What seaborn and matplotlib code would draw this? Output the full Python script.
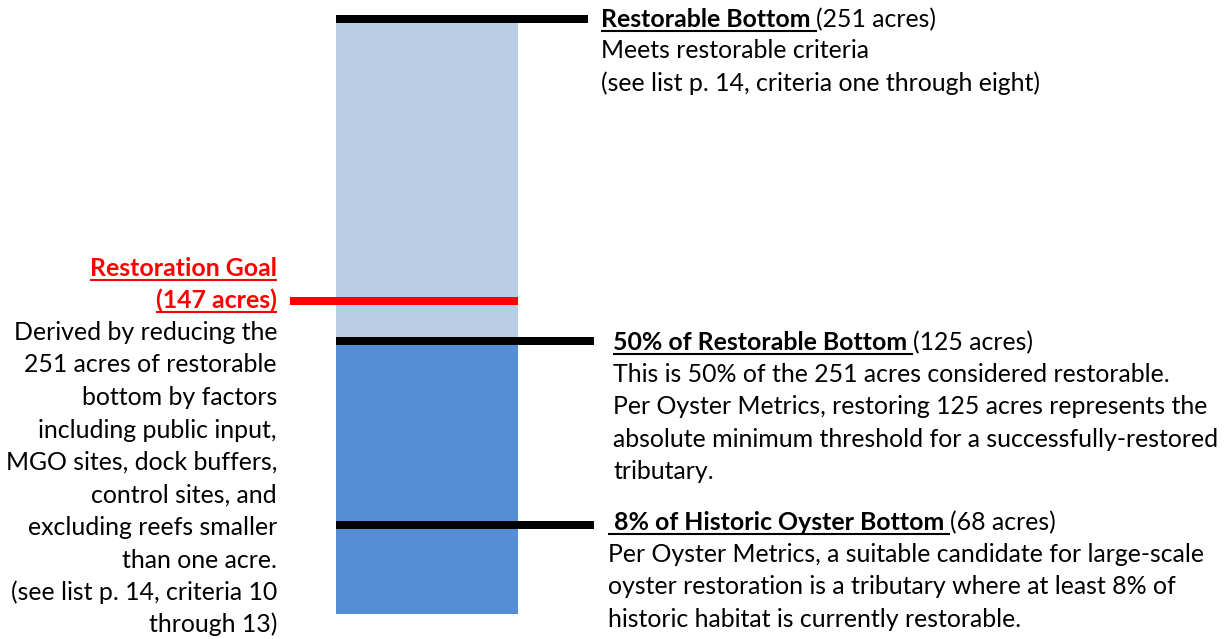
import numpy as np
import pandas as pd
import matplotlib
matplotlib.use("Agg")
import matplotlib.pyplot as plt
import seaborn as sns
from matplotlib.lines import Line2D

# ---------------- data ----------------
bar_segments = ["Restorable bottom", "50% of restorable bottom"]
bar_acres = [251, 125]
bar_colors = ["#B9CDE5", "#558ED5"]

level_names = ["Restorable Bottom", "Restoration Goal",
               "50% of Restorable Bottom", "8% of Historic Oyster Bottom"]
level_acres = [251, 147, 125, 68]
level_colors = ["black", "red", "black", "black"]

# the original graphic is schematic (not to scale): acres -> drawn height
scale_acres = [0, 68, 125, 147, 251]
scale_height = [0, 89, 273, 313.5, 595.5]

# ---------------- layout ----------------
W, H = 1225, 639
sns.set_style("white")
FONT = ["Lato", "DejaVu Sans"]
plt.rcParams["font.family"] = FONT
FS = 17.9

fig = plt.figure(figsize=(W / 100, H / 100), dpi=100)
ax = fig.add_axes([0, 25 / H, 1, 595.5 / H])

df = pd.DataFrame({"col": ["bar"] * 2, "segment": bar_segments, "acres": bar_acres})
sns.barplot(data=df, x="col", y="acres", hue="segment", dodge=False,
            palette=bar_colors, width=1, saturation=1, legend=False, ax=ax,
            linewidth=0)


def fwd(v):
    return np.interp(v, scale_acres, scale_height)


def inv(h):
    return np.interp(h, scale_height, scale_acres)


ax.set_yscale("function", functions=(fwd, inv))
ax.set_ylim(0, 251)
bar_px = 182.0
left = -0.5 - 336 / bar_px
ax.set_xlim(left, left + W / bar_px)
ax.axis("off")

line_span = {251: (336, 588), 147: (290, 518), 125: (336, 594), 68: (336, 594)}
for a, c in zip(level_acres, level_colors):
    x0, x1 = line_span[a]
    ax.axhline(a, xmin=x0 / W, xmax=x1 / W, color=c, lw=8 * 0.72,
               solid_capstyle="butt", clip_on=False, zorder=5)

# ---------------- text ----------------
def put(x, yb, s, ha="left", bold=False, color="black"):
    t = fig.text(x / W, 1 - yb / H, s, ha=ha, va="baseline", fontsize=FS,
                 fontweight="bold" if bold else "normal", color=color,
                 family=FONT)
    return t


renderer = fig.canvas.get_renderer()


def width_of(s, bold):
    t = fig.text(0, 0, s, fontsize=FS, fontweight="bold" if bold else "normal",
                 family=FONT)
    w = t.get_window_extent(renderer).width
    t.remove()
    return w


space_b = width_of("a a", True) - width_of("aa", True)


def underline(t, yb, color, extra_left=0, extra_right=0):
    bb = t.get_window_extent(renderer)
    y = (H - yb - 3.5) / H
    fig.add_artist(Line2D([(bb.x0 - extra_left) / W, (bb.x1 + extra_right) / W], [y, y],
                          color=color, lw=1.5, solid_capstyle="butt"))


def title_line(x, yb, bold_s, rest, lead_space=False):
    t = put(x, yb, bold_s, bold=True)
    underline(t, yb, "black", extra_left=space_b if lead_space else 0, extra_right=space_b)
    bb = t.get_window_extent(renderer)
    put(bb.x1 + space_b, yb, rest)


# block 1: restorable bottom
title_line(601, 27, level_names[0], f"({level_acres[0]} acres)")
put(601, 58.5, "Meets restorable criteria")
put(601, 91, "(see list p. 14, criteria one through eight)")

# block 2: 50%
title_line(613, 350, level_names[2], f"({level_acres[2]} acres)")
for i, s in enumerate([
        "This is 50% of the 251 acres considered restorable.",
        "Per Oyster Metrics, restoring 125 acres represents the",
        "absolute minimum threshold for a successfully-restored",
        "tributary."]):
    put(613, 382 + 32.3 * i, s)

# block 3: 8%
title_line(614, 530, level_names[3], f"({level_acres[3]} acres)", lead_space=True)
for i, s in enumerate([
        "Per Oyster Metrics, a suitable candidate for large-scale",
        "oyster restoration is a tributary where at least 8% of",
        "historic habitat is currently restorable."]):
    put(608, 562 + 32.3 * i, s)

# left block: restoration goal
t1 = put(277, 276, level_names[1], ha="right", bold=True, color="red")
underline(t1, 276, "red")
t2 = put(277, 308, f"({level_acres[1]} acres)", ha="right", bold=True, color="red")
underline(t2, 308, "red")
for i, s in enumerate([
        "Derived by reducing the",
        "251 acres of restorable",
        "bottom by factors",
        "including public input,",
        "MGO sites, dock buffers,",
        "control sites, and",
        "excluding reefs smaller",
        "than one acre.",
        "(see list p. 14, criteria 10",
        "through 13)"]):
    put(277, 340 + 32.5 * i, s, ha="right")

fig.savefig("out.png", dpi=100)
